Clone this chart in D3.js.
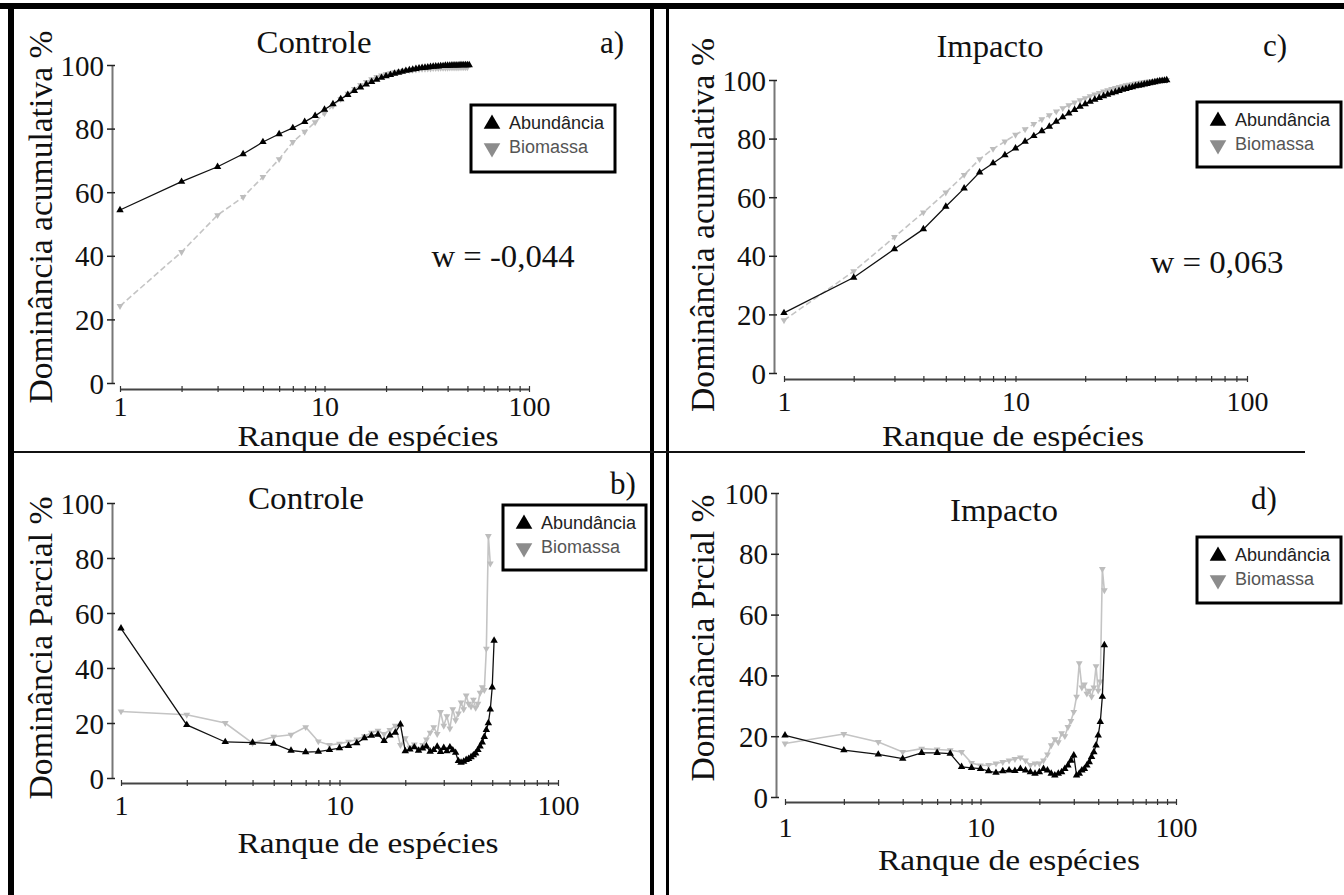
<!DOCTYPE html>
<html><head><meta charset="utf-8">
<script src="https://cdn.jsdelivr.net/npm/d3@7"></script>
<style>body{margin:0;background:#fff} svg{display:block}</style>
</head><body>
<svg id="c" width="1344" height="895"></svg>
<script>
// ---------- DATA (value at species rank 1, 2, 3, ...) ----------
const seriesNames = ["Abundância", "Biomassa"];
const yTickVals = [0, 20, 40, 60, 80, 100];
const xTickVals = [1,2,3,4,5,6,7,8,9,10,20,30,40,50,60,70,80,90,100];
const xLabelVals = [1, 10, 100];

// a) Controle - cumulative dominance
const aAbund = [54.4,63.3,68.0,72.0,75.8,78.3,80.2,82.1,84.0,86.0,87.7,89.3,90.6,91.9,93.0,93.9,94.7,95.4,96.0,96.5,
  96.9,97.3,97.6,97.9,98.2,98.4,98.6,98.8,99.0,99.1,99.2,99.3,99.4,99.5,99.6,99.6,99.7,99.7,99.8,99.8,
  99.8,99.9,99.9,99.9,99.9,100,100,100,100,100,100];
const aBiom = [24.2,41.2,52.8,58.5,64.8,70.4,75.8,79.0,82.0,84.8,87.2,89.3,91.0,92.5,93.7,94.7,95.5,96.2,96.7,97.1,
  97.4,97.7,97.9,98.1,98.3,98.4,98.5,98.6,98.7,98.8,98.8,98.9,98.9,99.0,99.0,99.0,99.1,99.1,99.1,99.1,
  99.2,99.2,99.2,99.2,99.2,99.3,99.3,99.3,99.3,99.3];

// b) Controle - partial dominance
const bAbund = [54.4,19.3,13.1,12.9,12.5,10.0,9.4,9.6,10.2,10.9,11.7,12.7,14.5,15.4,15.8,13.5,15.5,16.5,19.5,9.8,
  10.4,11.2,10.0,10.8,11.5,9.6,10.2,11.4,9.5,11.0,9.8,11.2,10.1,9.2,6.2,5.6,6.0,6.6,7.0,7.6,
  8.3,9.0,10.2,11.5,13.0,15.0,17.5,20.0,25.0,33.0,50.0];
const bBiom = [24.2,23.0,20.0,12.7,15.0,15.7,18.5,13.3,12.0,12.5,13.2,14.0,15.2,16.5,17.2,16.0,17.5,19.0,12.0,14.5,
  11.0,12.2,10.5,12.0,14.0,16.5,18.5,16.0,24.0,19.0,22.5,18.0,25.0,21.0,23.5,27.5,25.0,30.0,27.0,26.0,
  28.5,25.5,27.0,31.0,33.0,32.0,47.0,88.0,78.0];

// c) Impacto - cumulative dominance
const cAbund = [20.5,32.6,42.3,49.1,56.8,63.0,68.5,71.6,74.4,76.7,79.0,80.9,82.6,84.1,85.8,87.3,88.6,89.8,90.9,91.8,
  92.6,93.3,93.9,94.5,95.0,95.5,95.9,96.3,96.7,97.0,97.3,97.6,97.9,98.1,98.3,98.5,98.7,98.9,99.1,99.3,
  99.5,99.6,99.7,99.8,100];
const cBiom = [18.0,34.7,46.4,54.8,61.6,67.6,73.0,76.5,79.0,81.3,83.2,85.0,86.6,88.0,89.3,90.4,91.4,92.3,93.1,93.8,
  94.5,95.1,95.6,96.1,96.5,96.9,97.3,97.6,97.9,98.2,98.4,98.6,98.8,99.0,99.2,99.3,99.4,99.5,99.6,99.7,
  99.8,99.9,99.9,100,100];

// d) Impacto - partial dominance
const dAbund = [20.3,15.4,14.0,12.6,14.5,14.5,14.3,9.9,9.6,9.3,8.5,8.0,8.5,8.8,8.6,9.3,8.8,8.2,7.7,8.2,
  9.3,8.8,7.7,7.1,7.7,8.2,9.3,10.4,12.0,13.7,7.1,7.7,8.8,9.3,10.4,11.5,13.2,14.8,17.0,20.3,
  24.7,33.0,50.0];
const dBiom = [17.6,20.7,18.1,14.8,15.9,15.6,15.4,14.8,11.2,10.4,10.5,11.0,11.5,12.0,12.5,13.0,12.0,10.5,11.0,11.0,
  12.0,14.0,17.0,19.0,18.0,21.0,20.0,23.0,25.0,28.0,33.0,44.0,36.0,37.0,34.0,35.0,33.0,36.0,43.0,35.0,
  38.0,75.0,68.0];

// ---------- LAYOUT ----------
const panels = [
  {title:"Controle", tag:"a)", ylab:"Dominância acumulativa %", abund:aAbund, biom:aBiom,
   xr:[120,529], yr:[383,65], yAxisX:112, xAxisY:389, xLabOff:27,
   titleX:314, titleY:53, titleW:115, tagX:612, tagY:53,
   ylabX:52, ylabY:217, ylabW:373, xlabX:368, xlabY:446, xlabW:261,
   leg:[471,105,144,67], w:"w = -0,044", wX:503, wY:267, wW:143, dashed:true},
  {title:"Impacto", tag:"c)", ylab:"Dominância acumulativa %", abund:cAbund, biom:cBiom,
   xr:[784,1247], yr:[373,80], yAxisX:774, xAxisY:379, xLabOff:32,
   titleX:990, titleY:57, titleW:107, tagX:1275, tagY:56,
   ylabX:714, ylabY:225, ylabW:374, xlabX:1013, xlabY:446, xlabW:262,
   leg:[1197,102,144,65], w:"w = 0,063", wX:1217, wY:273, wW:133, dashed:true},
  {title:"Controle", tag:"b)", ylab:"Dominância Parcial %", abund:bAbund, biom:bBiom,
   xr:[121,558], yr:[778,503], yAxisX:112, xAxisY:783, xLabOff:32,
   titleX:306, titleY:509, titleW:116, tagX:623, tagY:494,
   ylabX:52, ylabY:648, ylabW:303, xlabX:368, xlabY:853, xlabW:261,
   leg:[503,505,143,65], dashed:false},
  {title:"Impacto", tag:"d)", ylab:"Dominância Prcial %", abund:dAbund, biom:dBiom,
   xr:[785,1176], yr:[797,493], yAxisX:776, xAxisY:802, xLabOff:35,
   titleX:1004, titleY:521, titleW:108, tagX:1264, tagY:509,
   ylabX:714, ylabY:638, ylabW:287, xlabX:1009, xlabY:870, xlabW:262,
   leg:[1197,537,144,66], dashed:false}
];

const SERIF = "'Liberation Serif','Times New Roman',serif";
const SANS = "'Liberation Sans',Arial,sans-serif";
const svg = d3.select("#c");

// ---------- FRAME ----------
svg.append("rect").attr("x",0).attr("y",3).attr("width",1344).attr("height",6).attr("fill","#000");
svg.append("rect").attr("x",8).attr("y",3).attr("width",6).attr("height",892).attr("fill","#000");
svg.append("rect").attr("x",650).attr("y",3).attr("width",4).attr("height",892).attr("fill","#000");
svg.append("rect").attr("x",666).attr("y",3).attr("width",3).attr("height",892).attr("fill","#000");
svg.append("rect").attr("x",14).attr("y",451).attr("width",1291).attr("height",2).attr("fill","#111");

const triUp = d3.symbol().type(d3.symbolTriangle);

function drawPanel(p){
  const g = svg.append("g");
  const x = d3.scaleLog().domain([1,100]).range(p.xr);
  const y = d3.scaleLinear().domain([0,100]).range(p.yr);

  // y axis
  const yg = g.append("g").attr("transform",`translate(${p.yAxisX},0)`)
    .call(d3.axisLeft(y).tickValues(yTickVals).tickSizeOuter(0).tickSizeInner(5).tickPadding(8))
    .attr("font-family",SERIF).attr("font-size",29);
  yg.select(".domain").attr("stroke","#777").attr("stroke-width",2);
  yg.selectAll(".tick line").attr("x1",-5).attr("x2",3).attr("stroke","#222").attr("stroke-width",1.5);
  yg.selectAll(".tick text").attr("x",-8).attr("dy","0.35em").attr("fill","#111");

  // x axis
  const xg = g.append("g").attr("transform",`translate(0,${p.xAxisY})`)
    .call(d3.axisBottom(x).tickValues(xTickVals).tickSizeOuter(0)
      .tickFormat(d => xLabelVals.includes(d) ? String(d) : ""))
    .attr("font-family",SERIF).attr("font-size",28);
  xg.select(".domain").attr("stroke","#444").attr("stroke-width",2);
  xg.selectAll(".tick line").attr("y1",-3).attr("y2",3).attr("stroke","#333").attr("stroke-width",1.2);
  xg.selectAll(".tick text").attr("y",p.xLabOff).attr("dy",0).attr("fill","#111");

  const line = d3.line().x((d,i)=>x(i+1)).y(d=>y(d));

  // Biomassa (gray)
  g.append("path").datum(p.biom).attr("d",line).attr("fill","none")
    .attr("stroke","#c4c4c4").attr("stroke-width",1.6)
    .attr("stroke-dasharray",p.dashed ? "6,3" : null);
  g.selectAll(".bm").data(p.biom).join("path")
    .attr("transform",(d,i)=>`translate(${x(i+1)},${y(d)}) rotate(180)`)
    .attr("d",triUp.size(20)()).attr("fill","#bdbdbd");

  // Abundância (black)
  g.append("path").datum(p.abund).attr("d",line).attr("fill","none")
    .attr("stroke","#111").attr("stroke-width",1.3);
  g.selectAll(".ab").data(p.abund).join("path")
    .attr("transform",(d,i)=>`translate(${x(i+1)},${y(d)})`)
    .attr("d",triUp.size(24)()).attr("fill","#000");

  // texts
  g.append("text").attr("x",p.titleX).attr("y",p.titleY).attr("text-anchor","middle")
    .attr("font-family",SERIF).attr("font-size",31).attr("fill","#111")
    .attr("textLength",p.titleW).attr("lengthAdjust","spacingAndGlyphs").text(p.title);
  g.append("text").attr("x",p.tagX).attr("y",p.tagY).attr("text-anchor","middle")
    .attr("font-family",SERIF).attr("font-size",31).attr("fill","#111").text(p.tag);
  g.append("text").attr("transform",`translate(${p.ylabX},${p.ylabY}) rotate(-90)`)
    .attr("text-anchor","middle").attr("font-family",SERIF).attr("font-size",33).attr("fill","#111")
    .attr("textLength",p.ylabW).attr("lengthAdjust","spacingAndGlyphs").text(p.ylab);
  g.append("text").attr("x",p.xlabX).attr("y",p.xlabY).attr("text-anchor","middle")
    .attr("font-family",SERIF).attr("font-size",29).attr("fill","#111")
    .attr("textLength",p.xlabW).attr("lengthAdjust","spacingAndGlyphs").text("Ranque de espécies");
  if (p.w){
    g.append("text").attr("x",p.wX).attr("y",p.wY).attr("text-anchor","middle")
      .attr("font-family",SERIF).attr("font-size",31).attr("fill","#111")
      .attr("textLength",p.wW).attr("lengthAdjust","spacingAndGlyphs").text(p.w);
  }

  // legend
  const [lx,ly,lw,lh] = p.leg;
  const lg = g.append("g");
  lg.append("rect").attr("x",lx).attr("y",ly).attr("width",lw).attr("height",lh)
    .attr("fill","#fff").attr("stroke","#000").attr("stroke-width",3);
  const rows = [{name:seriesNames[0], dy:18, rot:0, fill:"#000", tc:"#222"},
                {name:seriesNames[1], dy:42, rot:180, fill:"#8c8c8c", tc:"#555"}];
  rows.forEach(r=>{
    lg.append("path").attr("transform",`translate(${lx+21},${ly+r.dy+1}) rotate(${r.rot})`)
      .attr("d",triUp.size(120)()).attr("fill",r.fill);
    lg.append("text").attr("x",lx+38).attr("y",ly+r.dy).attr("dy","0.36em")
      .attr("font-family",SANS).attr("font-size",18).attr("fill",r.tc).text(r.name);
  });
}

panels.forEach(drawPanel);
</script>
</body></html>
